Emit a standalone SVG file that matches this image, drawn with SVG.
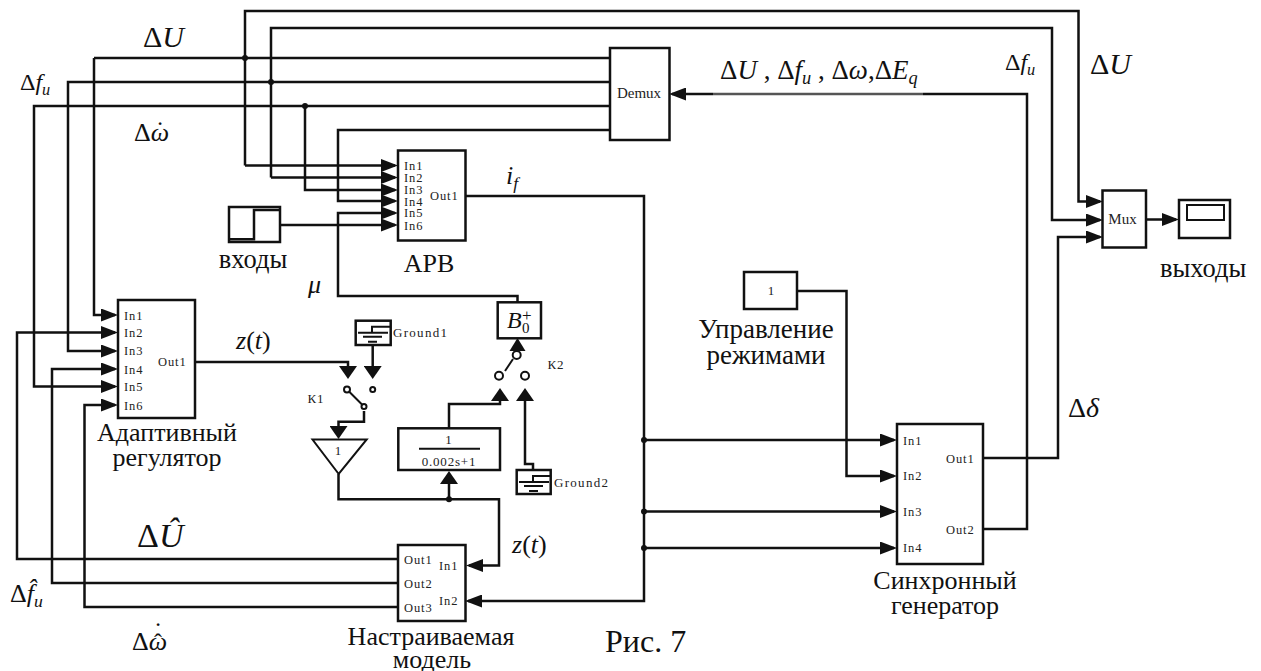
<svg xmlns="http://www.w3.org/2000/svg" width="1261" height="671" viewBox="0 0 1261 671">
<style>
text{font-family:"Liberation Serif","Times New Roman",serif;fill:#111}
.w{fill:none;stroke:#111;stroke-width:2.5;stroke-linejoin:miter}
.a{marker-end:url(#ah)}
.v{marker-end:url(#av)}
.b{fill:#fff;stroke:#111;stroke-width:2.5}
.l{stroke:#111;stroke-width:2;fill:none}
.p{font-size:12.5px;letter-spacing:.9px;fill:#222}
.g{font-size:13px;letter-spacing:1.3px;fill:#222}
.m{font-size:15px;fill:#222;text-anchor:middle}
.c{font-size:13px;fill:#222;text-anchor:middle}
.n{font-size:26px}
.mid{text-anchor:middle}
.i{font-style:italic}
.o{fill:#fff;stroke:#111;stroke-width:2}
.d{fill:#111}
.s{font-size:.68em;font-style:italic}
</style>
<defs>
<marker id="ah" markerUnits="userSpaceOnUse" markerWidth="17" markerHeight="13" viewBox="0 0 17 13" refX="14" refY="6.500" orient="auto"><path d="M0 0L17 6.500L0 13Z" fill="#111"/></marker>
<marker id="av" markerUnits="userSpaceOnUse" markerWidth="13" markerHeight="18" viewBox="0 0 13 18" refX="10" refY="9" orient="auto"><path d="M0 0L13 9L0 18Z" fill="#111"/></marker>
</defs>

<g id="connectors">
<path class="w a" d="M245 165.500V11H1078.500V201.500H1100"/>
<path class="w a" d="M245 165.500H395"/>
<path class="w a" d="M271 177.500V28H1052V220H1100"/>
<path class="w a" d="M271 177.500H395"/>
<path class="w a" d="M94 58H610M94 58V315H115"/>
<path class="w a" d="M610 82H68V351H115"/>
<path class="w a" d="M610 106H34V386.500H115"/>
<path class="w a" d="M305 106V190H395"/>
<path class="w a" d="M610 130H338V201H395"/>
<path class="w a" d="M517.500 302V296H338V213H395"/>
<path class="w a" d="M280 225H395"/>
<path class="w a" d="M465 196H644V601H468"/>
<path class="w a" d="M644 440H894"/>
<path class="w a" d="M644 511.500H894"/>
<path class="w a" d="M644 548H894"/>
<path class="w a" d="M797 291H846.500V476H894"/>
<path class="w" d="M983 529H1027V94H923"/>
<path class="w" style="stroke:#555" d="M923 94H713"/>
<path class="w a" d="M713 94H672"/>
<path class="w a" d="M983 458H1058V237H1100"/>
<path class="w a" d="M1146 219.500H1176"/>
<path class="w a" d="M398 559H17V332.500H115"/>
<path class="w a" d="M398 583H52V369H115"/>
<path class="w a" d="M398 607H84.500V405H115"/>
<path class="w v" d="M195 362H348V376"/>
<path class="w v" d="M372.700 345V376"/>
<path class="w v" d="M364 411V421.700H338.500V436"/>
<path class="w a" d="M338.500 474V499.300H499V565.500H469"/>
<path class="w v" d="M449 499.300V474"/>
<path class="w v" d="M449 428V404H500V391"/>
<path class="w v" d="M533 470V464H525V391"/>
<circle class="d" cx="245" cy="58" r="3"/>
<circle class="d" cx="271" cy="82" r="3"/>
<circle class="d" cx="305" cy="106" r="3"/>
<circle class="d" cx="644" cy="440" r="3"/>
<circle class="d" cx="644" cy="511.500" r="3"/>
<circle class="d" cx="644" cy="548" r="3"/>
<circle class="d" cx="449" cy="499.300" r="3"/>
</g>

<g id="demux">
<rect class="b" x="610" y="48" width="59.500" height="92"/>
<text class="m" x="639" y="98">Demux</text>
</g>

<g id="arv">
<rect class="b" x="398" y="150.500" width="67.500" height="90"/>
<text class="p" x="404" y="170">In1</text>
<text class="p" x="404" y="182">In2</text>
<text class="p" x="404" y="194">In3</text>
<text class="p" x="404" y="206">In4</text>
<text class="p" x="404" y="217">In5</text>
<text class="p" x="404" y="230">In6</text>
<text class="p" x="430" y="200">Out1</text>
<text class="n mid" x="429" y="272">АРВ</text>
</g>

<g id="step">
<rect class="b" x="229" y="207" width="51" height="35"/>
<path class="w" d="M230 239.300H254V210H279"/>
<text class="mid" x="253" y="268" style="font-size:26.500px">входы</text>
</g>

<g id="adaptive">
<rect class="b" x="118" y="300" width="77" height="118"/>
<text class="p" x="124" y="320">In1</text>
<text class="p" x="124" y="337">In2</text>
<text class="p" x="124" y="355">In3</text>
<text class="p" x="124" y="374">In4</text>
<text class="p" x="124" y="391">In5</text>
<text class="p" x="124" y="410">In6</text>
<text class="p" x="158" y="366">Out1</text>
<text class="n mid" x="167" y="441">Адаптивный</text>
<text class="n mid" x="167" y="466">регулятор</text>
</g>

<g id="ground1">
<rect class="b" x="355.700" y="320.700" width="35" height="24.300"/>
<path class="l" d="M358 332.700H388M372 332.700V326.700H390M363 336.700H382M368 341.700H377"/>
<text class="g" x="393" y="337">Ground1</text>
</g>

<g id="k1">
<path class="l" d="M347 389.500L364 406.500"/>
<circle class="o" cx="347" cy="389.500" r="3"/>
<circle class="o" cx="372.700" cy="389.500" r="2.500"/>
<circle class="o" cx="364" cy="406.500" r="2.500"/>
<text class="c" x="316" y="403" style="letter-spacing:1px">К1</text>
</g>

<g id="gain">
<path class="b" style="stroke-width:2" d="M312.500 439.500H366.700L338.700 474Z"/>
<text class="c" x="338" y="455">1</text>
</g>

<g id="filter">
<rect class="b" x="398.300" y="428.300" width="101.700" height="41.700"/>
<path class="l" d="M419 448.700H480"/>
<text class="c" x="449" y="444" style="letter-spacing:.8px">1</text>
<text class="c" x="449" y="466" style="letter-spacing:.8px">0.002s+1</text>
</g>

<g id="k2">
<path class="l" d="M505 371L513 359"/>
<circle class="o" cx="499" cy="375.700" r="4"/>
<circle class="o" cx="525" cy="375.700" r="4"/>
<circle class="o" cx="516.700" cy="355" r="4"/>
<path class="d" d="M517.500 338L525.500 351H509.500Z"/>
<text class="c" x="556" y="369" style="letter-spacing:1px">К2</text>
</g>

<g id="b0">
<rect class="b" x="497.700" y="302.300" width="43.300" height="36"/>
<text x="507" y="328" style="font-size:24px" class="i">B</text>
<text x="522" y="333" style="font-size:15px">0</text>
<text x="522" y="321" style="font-size:17px">+</text>
</g>

<g id="ground2">
<rect class="b" x="516.700" y="470" width="34" height="24"/>
<path class="l" d="M519 482H549M533 482V476H551M524 486H543M529 491H538"/>
<text class="g" x="554" y="487">Ground2</text>
</g>

<g id="model">
<rect class="b" x="398" y="545" width="67.500" height="76"/>
<text class="p" x="404" y="564">Out1</text>
<text class="p" x="404" y="588">Out2</text>
<text class="p" x="404" y="612">Out3</text>
<text class="p" x="439" y="570">In1</text>
<text class="p" x="439" y="605">In2</text>
<text class="n mid" x="431" y="645">Настраиваемая</text>
<text class="n mid" x="432" y="668">модель</text>
</g>

<g id="constant">
<rect class="b" x="744" y="272" width="53" height="37"/>
<text class="c" x="771" y="295">1</text>
<text class="mid" x="766" y="338" style="font-size:27px">Управление</text>
<text class="mid" x="766" y="364" style="font-size:27px">режимами</text>
</g>

<g id="generator">
<rect class="b" x="897" y="424" width="86" height="140"/>
<text class="p" x="903" y="445">In1</text>
<text class="p" x="903" y="480">In2</text>
<text class="p" x="903" y="516">In3</text>
<text class="p" x="903" y="552">In4</text>
<text class="p" x="946" y="463">Out1</text>
<text class="p" x="946" y="534">Out2</text>
<text class="n mid" x="945" y="589">Синхронный</text>
<text class="n mid" x="945" y="614">генератор</text>
</g>

<g id="mux">
<rect class="b" x="1102.500" y="190.500" width="43.500" height="57"/>
<text class="m" x="1122.500" y="224">Mux</text>
</g>

<g id="scope">
<rect class="b" x="1179" y="200" width="51" height="38"/>
<rect class="l" x="1187" y="205" width="37" height="15"/>
<text x="1160" y="277" style="font-size:26.500px">выходы</text>
</g>

<g id="labels">
<text x="143" y="47" style="font-size:30px">Δ<tspan class="i">U</tspan></text>
<text x="20" y="90" style="font-size:24px">Δ<tspan class="i">f</tspan><tspan class="s" dy="5">u</tspan></text>
<text x="134" y="141" style="font-size:26px">Δ<tspan class="i">ω</tspan></text>
<text class="mid" x="160" y="139" style="font-size:26px">˙</text>
<text x="308" y="293" class="n i">μ</text>
<text x="506" y="184" class="n i">i<tspan class="s" dy="5">f</tspan></text>
<text x="236" y="349" class="n"><tspan class="i">z</tspan>(<tspan class="i">t</tspan>)</text>
<text x="512" y="553" class="n"><tspan class="i">z</tspan>(<tspan class="i">t</tspan>)</text>
<text x="137" y="547" style="font-size:34px">Δ<tspan class="i">Û</tspan></text>
<text x="10" y="602" style="font-size:26px">Δ<tspan class="i">f̂</tspan><tspan class="s" dy="5">u</tspan></text>
<text x="132" y="650" style="font-size:26px">Δ<tspan class="i">ω</tspan></text>
<text class="mid" x="158" y="650" style="font-size:24px">ˆ</text>
<text class="mid" x="158" y="640" style="font-size:26px">˙</text>
<text x="605" y="652" style="font-size:32px">Рис. 7</text>
<text x="720" y="79" style="font-size:27px" xml:space="preserve">Δ<tspan class="i">U</tspan> , Δ<tspan class="i">f</tspan><tspan class="s" dy="5">u</tspan><tspan dy="-5"> , Δ</tspan><tspan class="i">ω</tspan>,Δ<tspan class="i">E</tspan><tspan class="s" dy="5">q</tspan></text>
<text x="1005" y="70" style="font-size:24px">Δ<tspan class="i">f</tspan><tspan class="s" dy="5">u</tspan></text>
<text x="1090" y="74" style="font-size:30px">Δ<tspan class="i">U</tspan></text>
<text x="1068" y="417" style="font-size:28px">Δ<tspan class="i">δ</tspan></text>
</g>
</svg>
